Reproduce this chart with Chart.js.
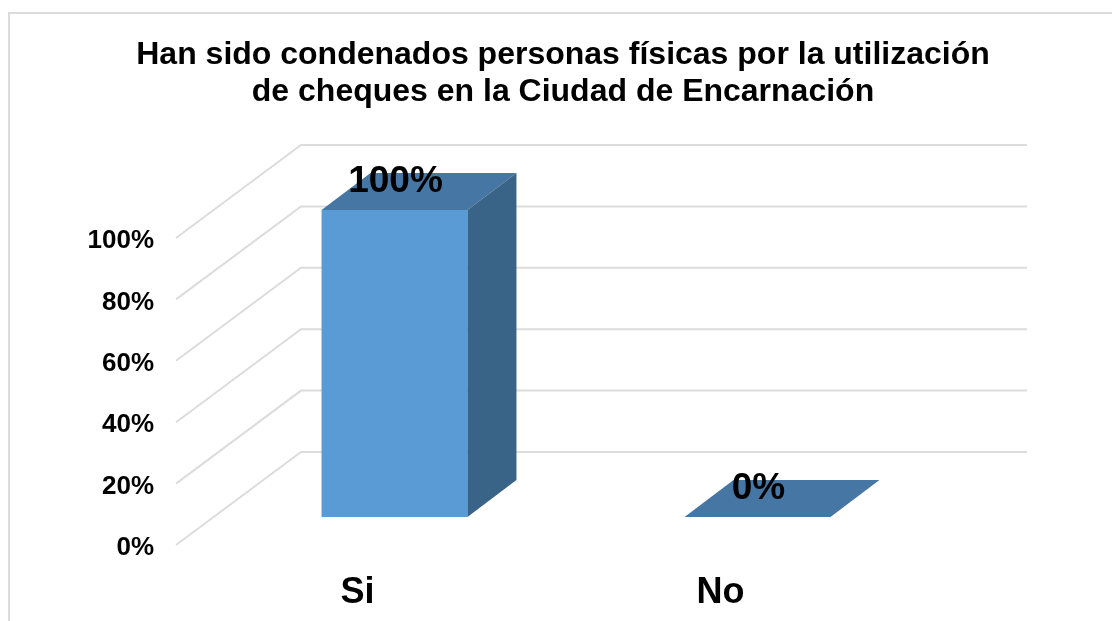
<!DOCTYPE html>
<html>
<head>
<meta charset="utf-8">
<style>html,body{margin:0;padding:0;background:#fff}canvas{display:block}</style>
<script src="https://cdn.jsdelivr.net/npm/chart.js@4"></script>
</head>
<body>
<div style="width:1112px;height:621px"><canvas id="c" width="1112" height="621"></canvas></div>
<script>
const categories = ['Si', 'No'];
const values = [100, 0];
const titleLines = ['Han sido condenados personas físicas por la utilización', 'de cheques en la Ciudad de Encarnación'];
const FONT = '"Liberation Sans", Arial, sans-serif';

const WALL_DX = 125, WALL_DY = -93;
const BAR_DX = 37, BAR_DY = -28;
const DEPTH_DX = 49, DEPTH_DY = -37;
const LINE = '#DCDCDC';

const view3d = {
  id: 'view3d',
  beforeDraw(chart) {
    const c = chart.ctx;
    c.save();
    c.strokeStyle = LINE;
    c.lineWidth = 2;
    c.beginPath();
    c.moveTo(9, 621); c.lineTo(9, 13); c.lineTo(1112, 13);
    c.stroke();
    c.restore();
  },
  beforeDatasetsDraw(chart) {
    const c = chart.ctx, y = chart.scales.y, a = chart.chartArea;
    c.save();
    c.strokeStyle = LINE;
    c.lineWidth = 2;
    y.ticks.forEach(t => {
      const py = y.getPixelForValue(t.value);
      c.beginPath();
      c.moveTo(a.left, py);
      c.lineTo(a.left + WALL_DX, py + WALL_DY);
      c.lineTo(a.right + WALL_DX, py + WALL_DY);
      c.stroke();
    });
    c.restore();
  },
  beforeDatasetDraw(chart) {
    chart.ctx.save();
    chart.ctx.translate(BAR_DX, BAR_DY);
  },
  afterDatasetDraw(chart, args) {
    const c = chart.ctx;
    args.meta.data.forEach(b => {
      const p = b.getProps(['x', 'y', 'base', 'width'], true);
      const l = p.x - p.width / 2, r = p.x + p.width / 2;
      c.fillStyle = '#4676A3';
      c.beginPath();
      c.moveTo(l, p.y); c.lineTo(r, p.y);
      c.lineTo(r + DEPTH_DX, p.y + DEPTH_DY); c.lineTo(l + DEPTH_DX, p.y + DEPTH_DY);
      c.closePath(); c.fill();
      if (p.base - p.y > 0.5) {
        c.fillStyle = '#3A6487';
        c.beginPath();
        c.moveTo(r, p.y); c.lineTo(r + DEPTH_DX, p.y + DEPTH_DY);
        c.lineTo(r + DEPTH_DX, p.base + DEPTH_DY); c.lineTo(r, p.base);
        c.closePath(); c.fill();
      }
    });
    c.restore();
  },
  afterDatasetsDraw(chart) {
    const c = chart.ctx, meta = chart.getDatasetMeta(0);
    c.save();
    c.fillStyle = '#000';
    c.font = 'bold 37px ' + FONT;
    c.textAlign = 'center';
    c.textBaseline = 'middle';
    meta.data.forEach((b, i) => {
      c.fillText(values[i] + '%', b.x + BAR_DX + 1, b.y - 56);
    });
    c.restore();
  }
};

new Chart(document.getElementById('c'), {
  type: 'bar',
  plugins: [view3d],
  data: {
    labels: categories,
    datasets: [{
      data: values,
      backgroundColor: '#5B9BD5',
      borderWidth: 0,
      barPercentage: 0.402,
      categoryPercentage: 1
    }]
  },
  options: {
    responsive: false,
    animation: false,
    layout: { padding: { left: 14, right: 0, top: 0, bottom: 0 } },
    plugins: {
      legend: { display: false },
      tooltip: { enabled: false },
      title: {
        display: true,
        text: titleLines,
        color: '#000',
        font: { family: FONT, size: 32, weight: 'bold', lineHeight: 1.156 },
        padding: { top: 37, bottom: 127 }
      }
    },
    scales: {
      x: {
        grid: { display: false, drawTicks: false },
        border: { display: false },
        ticks: { color: '#000', font: { family: FONT, size: 36, weight: 'bold' }, padding: 26, maxRotation: 0 },
        afterFit(s) { s.height = 76; }
      },
      y: {
        min: 0, max: 100,
        grid: { display: false, drawTicks: false },
        border: { display: false },
        ticks: {
          stepSize: 20, color: '#000', padding: 22, labelOffset: 3,
          font: { family: FONT, size: 26, weight: 'bold' },
          callback: v => v + '%'
        },
        afterFit(s) { s.width = 162; }
      },
      y2: {
        position: 'right', display: true,
        grid: { display: false, drawTicks: false },
        border: { display: false },
        ticks: { display: false },
        afterFit(s) { s.width = 210; }
      }
    }
  }
});
</script>
</body>
</html>
